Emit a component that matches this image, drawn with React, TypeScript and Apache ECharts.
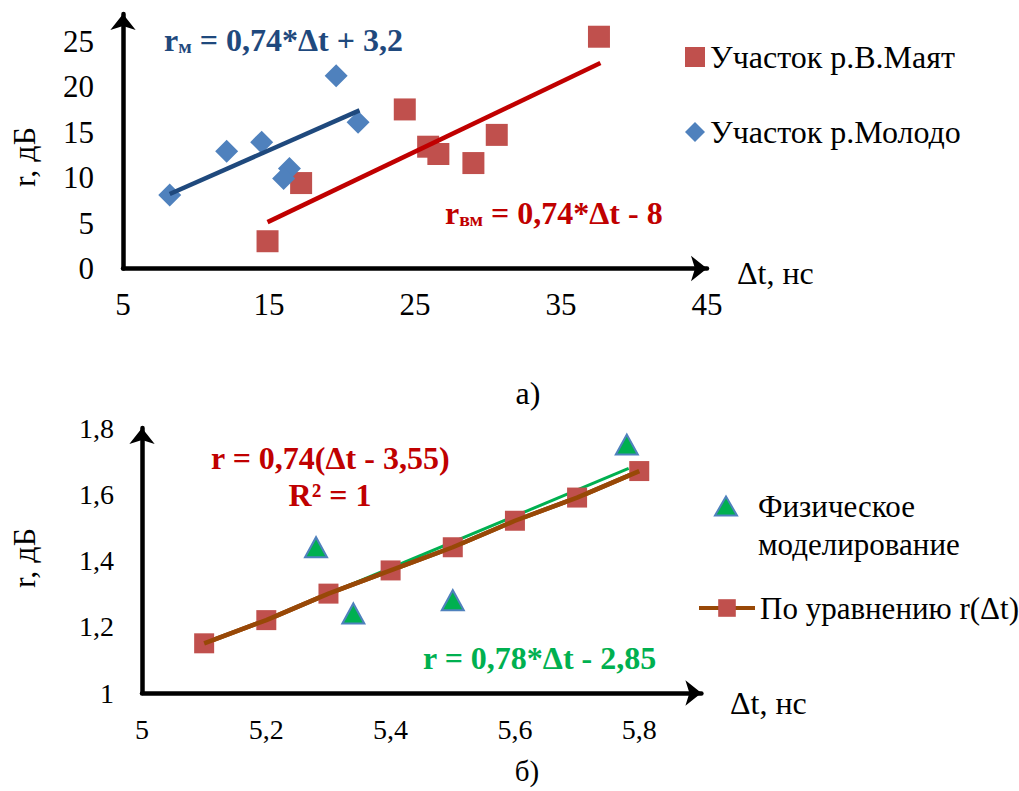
import React, { useEffect, useRef } from 'react';
import * as echarts from 'echarts';

const FONT = 'Liberation Serif';

// ---- Top chart (а) ----
const mayatX = [37.6, 24.3, 25.9, 26.6, 29.0, 30.6, 17.2, 14.9];
const mayatY = [25.5, 17.5, 13.4, 12.6, 11.6, 14.7, 9.4, 3.0];
const moloX = [8.2, 12.1, 14.5, 16.4, 16.0, 19.6, 21.1];
const moloY = [8.1, 12.9, 13.9, 11.0, 9.9, 21.2, 16.1];
const mayatTrendX = [14.9, 37.7];
const mayatTrendY = [5.1, 22.6];
const moloTrendX = [8.2, 21.2];
const moloTrendY = [8.2, 17.4];

// ---- Bottom chart (б) ----
const modelX = [5.1, 5.2, 5.3, 5.4, 5.5, 5.6, 5.7, 5.8];
const modelY = [1.15, 1.22, 1.3, 1.37, 1.44, 1.52, 1.59, 1.67];
const physX = [5.28, 5.34, 5.5, 5.78];
const physY = [1.44, 1.24, 1.28, 1.75];
const physTrendX = [5.28, 5.783];
const physTrendY = [1.283, 1.678];

const zip = (xs: number[], ys: number[]) => xs.map((x, i) => [x, ys[i]]);
const fmt = (v: number) => String(+v.toFixed(2)).replace('.', ',');

function axis(gridIndex: number, min: number, max: number, interval: number, margin: number, showMax: boolean, size: number) {
  return {
    type: 'value',
    gridIndex,
    min,
    max,
    interval,
    axisLine: {
      show: true,
      onZero: false,
      symbol: ['none', 'arrow'],
      symbolSize: [19, 16],
      lineStyle: { color: '#000', width: 4.5 },
    },
    axisTick: { show: false },
    splitLine: { show: false },
    axisLabel: {
      color: '#000',
      fontFamily: FONT,
      fontSize: size,
      margin,
      showMaxLabel: showMax,
      formatter: (v: number) => fmt(v),
    },
  };
}

function eq(x: number, y: number, main: string, sub: string, rest: string, color: string, size: number) {
  return {
    type: 'text',
    x,
    y,
    style: {
      text: sub ? `{a|${main}}{b|${sub}}{a|${rest}}` : `{a|${main}${rest}}`,
      verticalAlign: 'middle',
      align: 'left',
      rich: {
        a: { fontFamily: FONT, fontSize: size, fontWeight: 'bold', fill: color, lineHeight: size },
        b: { fontFamily: FONT, fontSize: size * 0.62, fontWeight: 'bold', fill: color, lineHeight: 10, verticalAlign: 'bottom' },
      },
    },
  };
}

function plain(x: number, y: number, text: string, align: string, rotation = 0, size = 32) {
  return {
    type: 'text',
    x,
    y,
    rotation,
    style: {
      text,
      fontFamily: FONT,
      fontSize: size,
      fill: '#000',
      align,
      verticalAlign: 'middle',
    },
  };
}

const option = {
  animation: false,
  backgroundColor: '#fff',
  grid: [
    { left: 123, top: 14, width: 584, height: 254.5 },
    { left: 142, top: 428, width: 559.4, height: 265 },
  ],
  xAxis: [axis(0, 5, 45, 10, 20, true, 31), axis(1, 5, 5.9, 0.2, 22, false, 28)],
  yAxis: [axis(0, 0, 28, 5, 29, false, 31), axis(1, 1, 1.8, 0.2, 28, true, 28)],
  legend: [
    {
      orient: 'vertical',
      left: 680,
      top: 34,
      itemGap: 39,
      itemWidth: 20,
      itemHeight: 20,
      selectedMode: false,
      data: ['Участок р.В.Маят', 'Участок р.Молодо'],
      textStyle: { fontFamily: FONT, fontSize: 32, color: '#000', lineHeight: 36 },
    },
    {
      left: 709,
      top: 444,
      itemWidth: 22,
      itemHeight: 19,
      selectedMode: false,
      data: ['Физическое моделирование'],
      formatter: () => ' \nФизическое\nмоделирование',
      textStyle: { fontFamily: FONT, fontSize: 31, color: '#000', lineHeight: 38, padding: [0, 0, 0, 16] },
    },
    {
      left: 692,
      top: 586,
      itemWidth: 56,
      itemHeight: 22,
      selectedMode: false,
      lineStyle: { width: 4 },
      data: ['По уравнению r(Δt)'],
      textStyle: { fontFamily: FONT, fontSize: 31, color: '#000', lineHeight: 34 },
    },
  ],
  series: [
    {
      name: 'Участок р.В.Маят',
      type: 'scatter',
      xAxisIndex: 0,
      yAxisIndex: 0,
      symbol: 'rect',
      symbolSize: 22,
      itemStyle: { color: '#C0504D', opacity: 1 },
      data: zip(mayatX, mayatY),
    },
    {
      name: 'Участок р.Молодо',
      type: 'scatter',
      xAxisIndex: 0,
      yAxisIndex: 0,
      symbol: 'diamond',
      symbolSize: 23,
      itemStyle: { color: '#4F81BD', opacity: 1 },
      data: zip(moloX, moloY),
    },
    {
      name: 'trendMayat',
      type: 'line',
      xAxisIndex: 0,
      yAxisIndex: 0,
      symbol: 'none',
      lineStyle: { color: '#C00000', width: 4.5 },
      data: zip(mayatTrendX, mayatTrendY),
    },
    {
      name: 'trendMolo',
      type: 'line',
      xAxisIndex: 0,
      yAxisIndex: 0,
      symbol: 'none',
      lineStyle: { color: '#1F497D', width: 4.5 },
      data: zip(moloTrendX, moloTrendY),
    },
    {
      name: 'trendPhys',
      type: 'line',
      xAxisIndex: 1,
      yAxisIndex: 1,
      symbol: 'none',
      lineStyle: { color: '#00B050', width: 3 },
      data: zip(physTrendX, physTrendY),
    },
    {
      name: 'По уравнению r(Δt)',
      type: 'line',
      xAxisIndex: 1,
      yAxisIndex: 1,
      symbol: 'rect',
      symbolSize: 20,
      showSymbol: true,
      itemStyle: { color: '#C0504D', opacity: 1 },
      lineStyle: { color: '#984807', width: 4.5 },
      data: zip(modelX, modelY),
    },
    {
      name: 'modelLineTop',
      type: 'line',
      xAxisIndex: 1,
      yAxisIndex: 1,
      symbol: 'none',
      z: 4,
      lineStyle: { color: '#984807', width: 4.5 },
      data: zip(modelX, modelY),
    },
    {
      name: 'Физическое моделирование',
      type: 'scatter',
      xAxisIndex: 1,
      yAxisIndex: 1,
      symbol: 'triangle',
      symbolSize: [22, 20],
      itemStyle: { color: '#00B050', borderColor: '#4F81BD', borderWidth: 2, opacity: 1 },
      data: zip(physX, physY),
    },
  ],
  graphic: [
    eq(164, 40, 'r', 'м', ' = 0,74*Δt + 3,2', '#1F497D', 32),
    eq(445, 213, 'r', 'вм', ' = 0,74*Δt - 8', '#C00000', 32),
    eq(211, 458, 'r = 0,74(Δt - 3,55)', '', '', '#C00000', 32),
    {
      type: 'text',
      x: 330,
      y: 495,
      style: {
        text: 'R² = 1',
        fontFamily: FONT,
        fontSize: 32,
        fontWeight: 'bold',
        fill: '#C00000',
        align: 'center',
        verticalAlign: 'middle',
      },
    },
    eq(423, 658, 'r = 0,78*Δt - 2,85', '', '', '#00B050', 32),
    plain(24, 157, 'r, дБ', 'center', Math.PI / 2),
    plain(737, 273, 'Δt, нс', 'left'),
    plain(528, 393, 'а)', 'center'),
    plain(24, 558, 'r, дБ', 'center', Math.PI / 2),
    plain(730, 703, 'Δt, нс', 'left'),
    plain(527, 771, 'б)', 'center', 0, 29),
  ],
};

export default function App() {
  const ref = useRef<HTMLDivElement>(null);
  useEffect(() => {
    const chart = echarts.init(ref.current!, null, { renderer: 'svg' });
    chart.setOption(option as any);
    return () => chart.dispose();
  }, []);
  return (
    <div
      ref={ref}
      style={{ position: 'absolute', left: 0, top: 0, width: 1019, height: 791, background: '#fff' }}
    />
  );
}
